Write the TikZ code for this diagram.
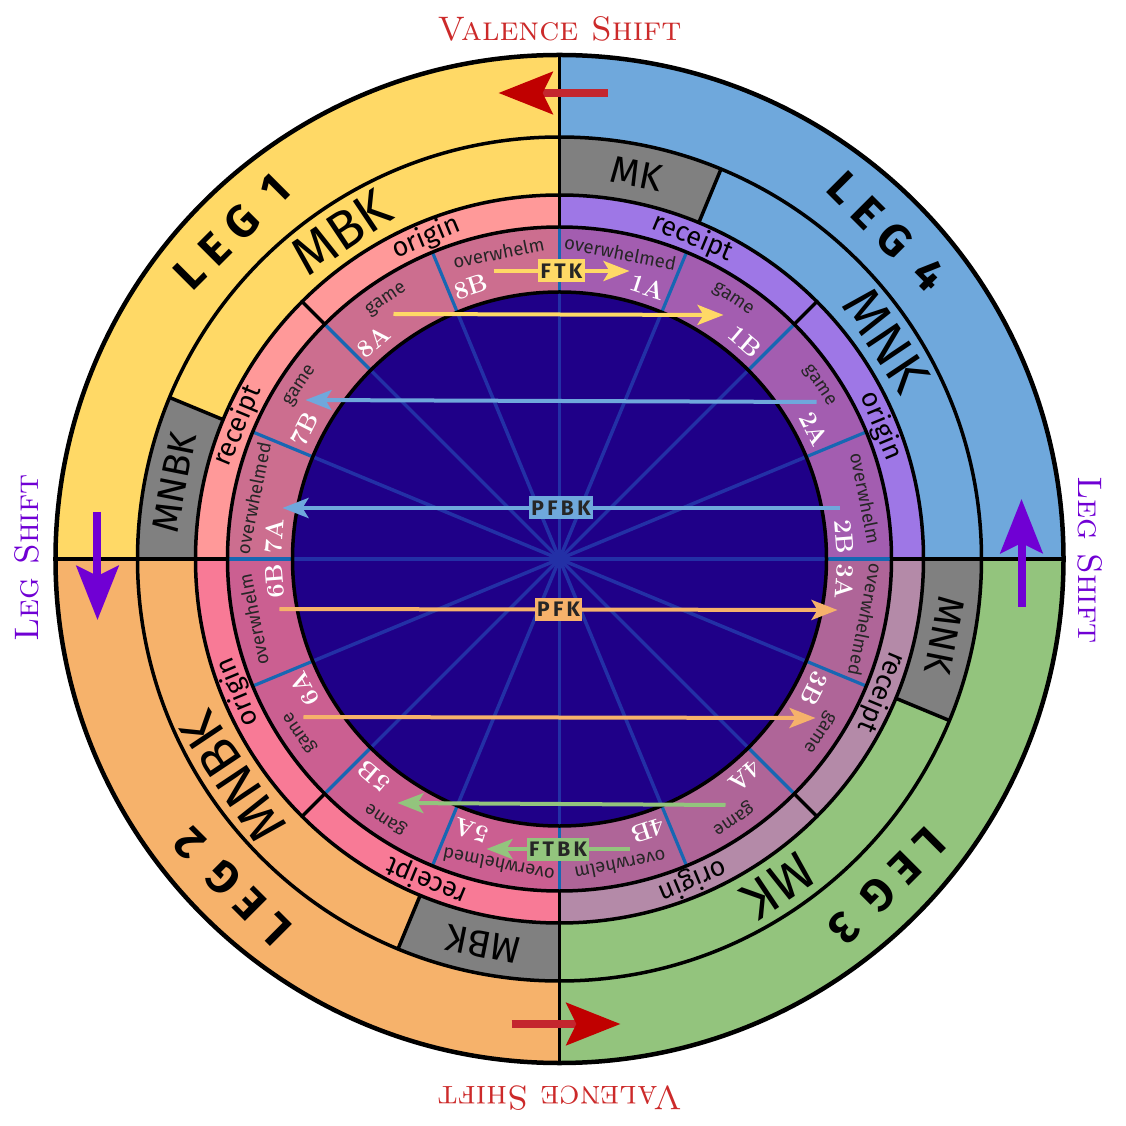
\documentclass[tikz,border=0pt]{standalone}
\usepackage{fontspec}
\setsansfont{Fira Sans}
\newfontfamily\legfont{Fira Sans}[LetterSpace=26]
\newfontfamily\tagfont{Fira Sans}[LetterSpace=16]
\usetikzlibrary{arrows.meta}

\definecolor{legone}{HTML}{FFD966}
\definecolor{legfour}{HTML}{6FA8DC}
\definecolor{legthree}{HTML}{93C47D}
\definecolor{legtwo}{HTML}{F6B26B}
\definecolor{boxgray}{HTML}{808080}
\definecolor{midone}{HTML}{FF9999}
\definecolor{midfour}{HTML}{9E77E6}
\definecolor{midthree}{HTML}{B48AA8}
\definecolor{midtwo}{HTML}{F87A96}
\definecolor{inone}{HTML}{CC6E8F}
\definecolor{infour}{HTML}{A35DB0}
\definecolor{inthree}{HTML}{AF6598}
\definecolor{intwo}{HTML}{CB5F91}
\definecolor{core}{HTML}{1F0088}
\definecolor{spokecol}{HTML}{2330A6}
\definecolor{sepcol}{HTML}{1767B3}
\definecolor{shiftred}{HTML}{C00000}
\definecolor{shiftline}{HTML}{C4262E}
\definecolor{shifttext}{HTML}{CC2A2A}
\definecolor{shiftpurple}{HTML}{7000D4}

% ring piece: colour, start angle, end angle, inner radius, outer radius
\newcommand{\ringseg}[5]{%
  \fill[#1] (#2:#5pt) arc[start angle=#2, end angle=#3, radius=#5pt]
    -- (#3:#4pt) arc[start angle=#3, end angle=#2, radius=#4pt] -- cycle;}

\begin{document}
\begin{tikzpicture}[
    ringline/.style={line width=3.5pt, black},
    outerline/.style={line width=4.5pt, black},
    sepline/.style={line width=3.2pt, sepcol},
    spoke/.style={line width=3.5pt, spokecol},
    leglbl/.style={font=\legfont\bfseries\fontsize{45}{45}\selectfont},
    kbig/.style={font=\sffamily\fontsize{54}{54}\selectfont},
    ksmall/.style={font=\sffamily\fontsize{38}{38}\selectfont},
    midlbl/.style={font=\sffamily\fontsize{27}{27}\selectfont},
    wordlbl/.style={font=\sffamily\fontsize{18.5}{18.5}\selectfont, text=black!85},
    idlbl/.style={font=\bfseries\fontsize{25}{25}\selectfont, text=white},
    tag/.style={font=\tagfont\bfseries\fontsize{21}{21}\selectfont, text=black!85, inner sep=2.5pt, minimum height=23pt},
    arr/.style={-{Stealth[length=26pt, width=20pt, inset=6pt]}, line width=4pt},
    bigarr/.style={-{Stealth[length=54pt, width=42pt, inset=10pt]}, line width=8pt},
    redarr/.style={-{Stealth[length=54pt, width=42pt, inset=10pt, color=shiftred]}, line width=8pt, draw=shiftline},
    shiftlbl/.style={font=\scshape\fontsize{34}{34}\selectfont}
]
\useasboundingbox (-559.5pt,-567pt) rectangle (566.5pt,559pt);

% Legs and key rings
\foreach \c/\s/\e in {legfour/0/90, legone/90/180, legtwo/180/270, legthree/270/360}
  \ringseg{\c}{\s}{\e}{364}{504};
\foreach \s/\e in {67.5/90, 157.5/180, 247.5/270, 337.5/360}
  \ringseg{boxgray}{\s}{\e}{364}{422};
\foreach \c/\s/\e in {midfour/0/90, midone/90/180, midtwo/180/270, midthree/270/360}
  \ringseg{\c}{\s}{\e}{332}{364};
\foreach \c/\s/\e in {infour/0/90, inone/90/180, intwo/180/270, inthree/270/360}
  \ringseg{\c}{\s}{\e}{267}{332};
\fill[core] (0,0) circle[radius=267pt];

% Spokes and borders
\foreach \a in {0,22.5,...,337.5} {
  \draw[spoke] (0,0) -- (\a:266pt);
  \draw[sepline] (\a:267pt) -- (\a:332pt);
}
\foreach \r in {267pt,332pt,364pt,422pt}
  \draw[ringline] (0,0) circle[radius=\r];
\draw[outerline] (0,0) circle[radius=504pt];
\foreach \a in {0,90,180,270}
  \draw[ringline] (\a:332pt) -- (\a:504pt);
\foreach \a in {45,135,225,315}
  \draw[ringline] (\a:332pt) -- (\a:364pt);
\foreach \a in {67.5,157.5,247.5,337.5}
  \draw[ringline] (\a:364pt) -- (\a:422pt);

% Labels
\foreach \a/\t/\n in {45/LEG 4/4, 135/LEG 1/1, 225/LEG 2/2, 315/LEG 3/3}
  \node[leglbl, rotate=\a-90] (leg\n) at (\a:463pt) {\t};
\foreach \a/\t [count=\i] in {33.75/MNK, 123.75/MBK, 213.75/MNBK, 303.75/MK}
  \node[kbig, rotate=\a-90] (kb\i) at (\a:393pt) {\t};
\foreach \a/\t [count=\i] in {78.75/MK, 168.75/MNBK, 258.75/MBK, 348.75/MNK}
  \node[ksmall, rotate=\a-90] (ks\i) at (\a:393pt) {\t};
\foreach \a/\t [count=\i] in {22.5/origin, 67.5/receipt, 112.5/origin, 157.5/receipt,
    202.5/origin, 247.5/receipt, 292.5/origin, 337.5/receipt}
  \node[midlbl, rotate=\a-90] (mid\i) at (\a:348pt) {\t};
\foreach \b [count=\i] in {11.25, 101.25, 191.25, 281.25} {
  \node[wordlbl, rotate=\b-90] (wa\i) at (\b:312pt) {overwhelm};
  \node[wordlbl, rotate=\b+22.5-90] (wb\i) at (\b+22.5:312pt) {game};
  \node[wordlbl, rotate=\b+45-90] (wc\i) at (\b+45:312pt) {game};
  \node[wordlbl, rotate=\b+67.5-90] (wd\i) at (\b+67.5:312pt) {overwhelmed};
}
\foreach \a/\t in {4.5/2B, 27/2A, 49.5/1B, 72/1A, 108/8B, 130.5/8A, 153/7B, 175.5/7A,
    184.5/6B, 207/6A, 229.5/5B, 252/5A, 288/4B, 310.5/4A, 333/3B, 355.5/3A}
  \node[idlbl, rotate=\a-90] (id\t) at (\a:286pt) {\t};

% Kick arrows
\coordinate (ftkS) at (-66pt,288pt);   \coordinate (ftkE) at (70pt,288pt);
\coordinate (fkS) at (-166pt,245pt);   \coordinate (fkE) at (164pt,244pt);
\coordinate (fbkS) at (257pt,157pt);   \coordinate (fbkE) at (-254pt,159pt);
\coordinate (pfbkS) at (280pt,51pt);   \coordinate (pfbkE) at (-277pt,51pt);
\coordinate (pfkS) at (-280pt,-50pt);  \coordinate (pfkE) at (278pt,-51pt);
\coordinate (okS) at (-256pt,-158pt);  \coordinate (okE) at (256pt,-159pt);
\coordinate (gkS) at (166pt,-246pt);   \coordinate (gkE) at (-162pt,-244pt);
\coordinate (ftbkS) at (70pt,-290pt);  \coordinate (ftbkE) at (-73pt,-290pt);

\draw[arr, draw=legone] (ftkS) -- node[tag, fill=legone] (ftk) {FTK} (ftkE);
\draw[arr, draw=legone] (fkS) -- (fkE);
\draw[arr, draw=legfour] (fbkS) -- (fbkE);
\draw[arr, draw=legfour] (pfbkS) -- node[tag, fill=legfour] (pfbk) {PFBK} (pfbkE);
\draw[arr, draw=legtwo] (pfkS) -- node[tag, fill=legtwo] (pfk) {PFK} (pfkE);
\draw[arr, draw=legtwo] (okS) -- (okE);
\draw[arr, draw=legthree] (gkS) -- (gkE);
\draw[arr, draw=legthree] (ftbkS) -- node[tag, fill=legthree] (ftbk) {FTBK} (ftbkE);

% Shift arrows
\coordinate (vtS) at (48pt,466pt);     \coordinate (vtE) at (-61pt,466pt);
\coordinate (vbS) at (-48pt,-465pt);   \coordinate (vbE) at (61pt,-465pt);
\coordinate (lsS) at (-462pt,47pt);    \coordinate (lsE) at (-462pt,-61pt);
\coordinate (rsS) at (462pt,-48pt);    \coordinate (rsE) at (462pt,60pt);
\draw[redarr] (vtS) -- (vtE);
\draw[redarr] (vbS) -- (vbE);
\draw[bigarr, draw=shiftpurple] (lsS) -- (lsE);
\draw[bigarr, draw=shiftpurple] (rsS) -- (rsE);

\node[shiftlbl, text=shifttext] (valtop) at (0pt,530pt) {Valence Shift};
\node[shiftlbl, text=shifttext, rotate=180] (valbot) at (0pt,-539pt) {Valence Shift};
\node[shiftlbl, text=shiftpurple, rotate=90] (legleft) at (-533pt,1pt) {Leg Shift};
\node[shiftlbl, text=shiftpurple, rotate=-90] (legright) at (531pt,-1pt) {Leg Shift};

\end{tikzpicture}
\end{document}
